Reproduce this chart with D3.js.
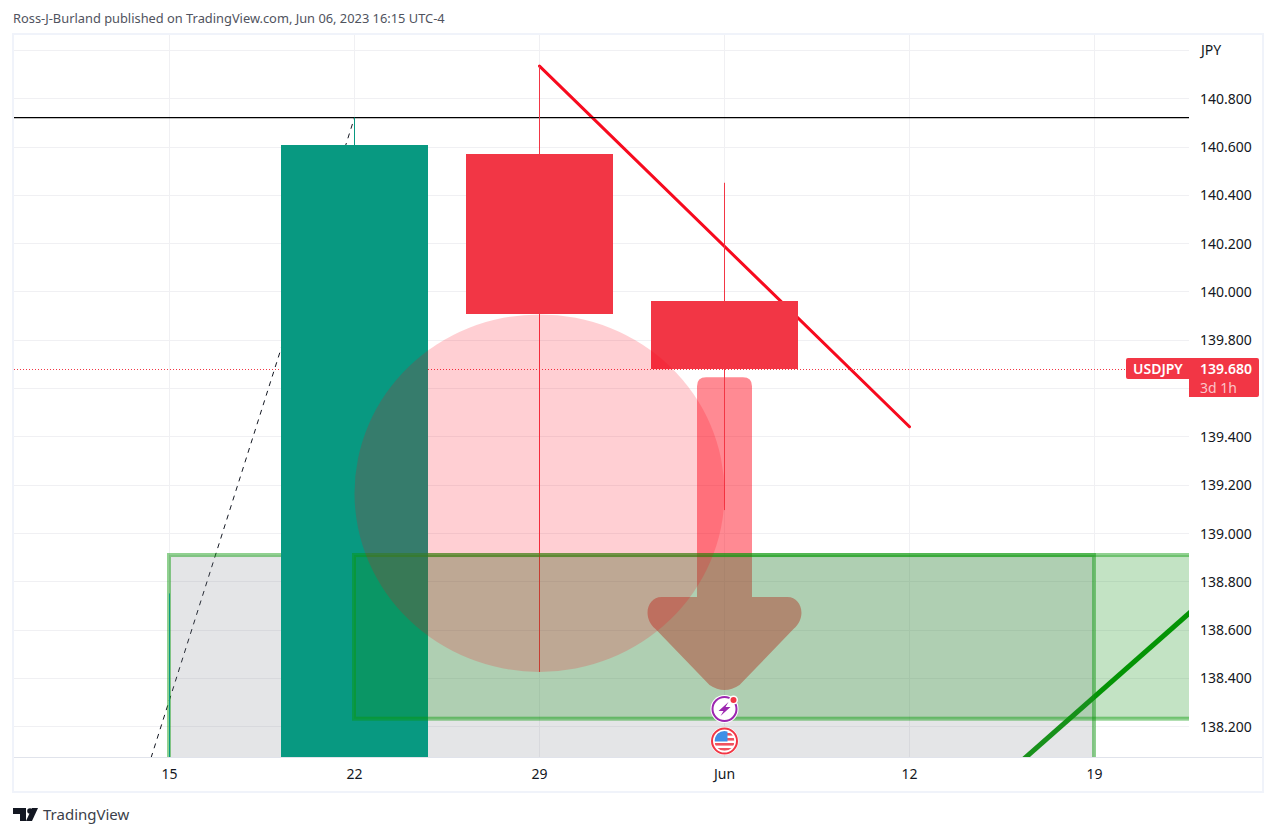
<!DOCTYPE html>
<html><head><meta charset="utf-8">
<script src="https://cdn.jsdelivr.net/npm/d3@7/dist/d3.min.js"></script>
<style>
html,body{margin:0;padding:0;background:#fff;overflow:hidden}
svg{display:block}
text{font-family:"Noto Sans","Open Sans",sans-serif}
</style></head><body>
<svg id="c" width="1277" height="836"></svg>
<script>
// ---- data ----
const symbol = "USDJPY";
const lastPrice = 139.68;
const countdown = "3d 1h";
const titleText = "Ross-J-Burland published on TradingView.com, Jun 06, 2023 16:15 UTC-4";
const brandText = "TradingView";
const currencyLabel = "JPY";
const candleDates = ["2023-05-15","2023-05-22","2023-05-29","2023-06-05"];
const candleOpen  = [137.0, 137.9, 140.57, 139.96];
const candleHigh  = [138.75, 140.72, 140.933, 140.45];
const candleLow   = [136.4, 137.5, 138.425, 139.095];
const candleClose = [137.9, 140.605, 139.905, 139.68];
const priceTicks = [138.2,138.4,138.6,138.8,139.0,139.2,139.4,139.6,139.8,140.0,140.2,140.4,140.6,140.8];
const gridPrices = priceTicks.concat([141.0]);
const dateTicks  = ["2023-05-15","2023-05-22","2023-05-29","2023-06-05","2023-06-12","2023-06-19"];
const dateLabels = ["15","22","29","Jun","12","19"];
const resistanceLevel = 140.72;
const redTrendDates = ["2023-05-29","2023-06-12"];
const redTrendPrices = [140.933, 139.44];
const greenTrendDates = ["2023-06-12","2023-06-26"];
const greenTrendPrices = [137.647, 138.998];
const dashedDates = ["2023-05-08","2023-05-22"];
const dashedPrices = [135.9, 140.72];
const greyZoneDates = ["2023-05-15","2023-06-19"];
const greyZonePrices = [138.909, 136.0];
const greenZoneDates = ["2023-05-22","2023-07-03"];
const greenZonePrices = [138.909, 138.2315];
const ellipseDates = ["2023-05-22","2023-06-05"];
const ellipsePrices = [139.905, 138.425];
const arrowDate = "2023-06-05";
const arrowPrices = [139.645, 138.35];

// ---- layout ----
const paneL=14, paneR=1189, paneT=35, paneB=757;
const pd = d3.utcParse("%Y-%m-%d");
const x = d3.scaleUtc().domain([pd("2023-05-15"),pd("2023-06-19")]).range([169.5,1094.5]);
const y = d3.scaleLinear().domain([138.2,140.8]).range([726.3,98.2]);
const dayW = (x(pd("2023-05-22"))-x(pd("2023-05-15")))/7;
const bodyW = dayW*5.56;
const svg = d3.select("#c");
const red="#f23645", teal="#089981";

svg.append("text").attr("x",13).attr("y",23).attr("font-size",12.85).attr("fill","#50535e").text(titleText);
svg.append("rect").attr("x",13).attr("y",34).attr("width",1250).attr("height",758)
  .attr("fill","#fff").attr("stroke","#f0f3fa").attr("stroke-width",2);

svg.append("defs").append("clipPath").attr("id","pane").append("rect")
  .attr("x",paneL).attr("y",paneT).attr("width",paneR-paneL).attr("height",paneB-paneT);

// grid
const grid = svg.append("g").attr("stroke","#f0f0f3").attr("stroke-width",1);
grid.selectAll(".h").data(gridPrices).join("line").attr("x1",paneL).attr("x2",paneR)
  .attr("y1",d=>Math.round(y(d))+.5).attr("y2",d=>Math.round(y(d))+.5);
grid.selectAll(".v").data(dateTicks).join("line").attr("y1",paneT).attr("y2",paneB)
  .attr("x1",d=>Math.floor(x(pd(d)))+.5).attr("x2",d=>Math.floor(x(pd(d)))+.5);

// axis separators
svg.append("line").attr("x1",paneL).attr("x2",1262).attr("y1",757.5).attr("y2",757.5).attr("stroke","#e0e3eb");

const pane = svg.append("g").attr("clip-path","url(#pane)");
const ln = d3.line().x(d=>x(d[0])).y(d=>y(d[1]));
const pair=(ds,ps)=>ds.map((d,i)=>[pd(d),ps[i]]);

// green trend under the grey zone
pane.append("path").attr("d",ln(pair(greenTrendDates,greenTrendPrices)))
  .attr("fill","none").attr("stroke","#009600").attr("stroke-width",5);

// dashed line
pane.append("path").attr("d",ln(pair(dashedDates,dashedPrices)))
  .attr("fill","none").attr("stroke","#131722").attr("stroke-width",1).attr("stroke-dasharray","5 5");

// red trend
pane.append("path").attr("d",ln(pair(redTrendDates,redTrendPrices)))
  .attr("fill","none").attr("stroke","#f70a1e").attr("stroke-width",3).attr("stroke-linecap","round");

// black level
pane.append("line").attr("x1",paneL).attr("x2",paneR).attr("y1",y(resistanceLevel)).attr("y2",y(resistanceLevel))
  .attr("stroke","#000").attr("stroke-width",1.2);

// last price dotted
pane.append("line").attr("x1",paneL).attr("x2",paneR).attr("y1",Math.round(y(lastPrice))+.5).attr("y2",Math.round(y(lastPrice))+.5)
  .attr("stroke",red).attr("stroke-width",1).attr("stroke-dasharray","1 2");

// arrow (beneath the zones)
const ax=x(pd(arrowDate)), aT=y(arrowPrices[0]), aB=y(arrowPrices[1]);
const ap=d3.path();
const shaft=27.5, head=79, headY=aB-93;
ap.moveTo(ax-shaft,aT+9);
ap.quadraticCurveTo(ax-shaft,aT,ax-shaft+9,aT);
ap.lineTo(ax+shaft-9,aT);
ap.quadraticCurveTo(ax+shaft,aT,ax+shaft,aT+9);
ap.lineTo(ax+shaft,headY);
ap.lineTo(ax+head-16,headY);
ap.bezierCurveTo(ax+head-2,headY,ax+head+4,headY+20,ax+head-10,headY+32);
ap.lineTo(ax+15,aB-5);
ap.quadraticCurveTo(ax,aB+5,ax-15,aB-5);
ap.lineTo(ax-head+10,headY+32);
ap.bezierCurveTo(ax-head-4,headY+20,ax-head+2,headY,ax-head+16,headY);
ap.lineTo(ax-shaft,headY);
ap.closePath();
pane.append("path").attr("d",ap.toString()).attr("fill","rgba(255,0,20,.46)");

// zones
const zone=(ds,ps,fill)=>pane.append("rect")
  .attr("x",x(pd(ds[0]))-.5).attr("y",y(ps[0]))
  .attr("width",x(pd(ds[1]))-x(pd(ds[0]))).attr("height",y(ps[1])-y(ps[0]))
  .attr("fill",fill).attr("stroke","rgba(8,153,8,.45)").attr("stroke-width",4);
zone(greyZoneDates,greyZonePrices,"rgba(120,123,134,.2)");

// candles
const candles = candleDates.map((d,i)=>({d:pd(d),o:candleOpen[i],h:candleHigh[i],l:candleLow[i],c:candleClose[i]}));
const cg = pane.append("g");
const col=d=>d.c>=d.o?teal:red;
cg.selectAll(".w").data(candles).join("line")
  .attr("x1",d=>Math.floor(x(d.d))+.5).attr("x2",d=>Math.floor(x(d.d))+.5)
  .attr("y1",d=>y(d.h)).attr("y2",d=>y(d.l)).attr("stroke",col).attr("stroke-width",1);
cg.selectAll(".b").data(candles).join("rect")
  .attr("x",d=>Math.round(x(d.d)-bodyW/2)).attr("width",Math.round(bodyW))
  .attr("y",d=>Math.round(y(Math.max(d.o,d.c)))).attr("height",d=>Math.round(y(Math.min(d.o,d.c)))-Math.round(y(Math.max(d.o,d.c)))).attr("fill",col);

// green zone
zone(greenZoneDates,greenZonePrices,"rgba(14,144,20,.25)");

// ellipse
const e0=x(pd(ellipseDates[0])), e1=x(pd(ellipseDates[1]));
pane.append("ellipse").attr("cx",(e0+e1)/2).attr("cy",(y(ellipsePrices[0])+y(ellipsePrices[1]))/2)
  .attr("rx",(e1-e0)/2).attr("ry",(y(ellipsePrices[1])-y(ellipsePrices[0]))/2)
  .attr("fill","rgba(255,0,20,.19)");

// event icons
const ix=x(pd("2023-06-05"));
const ev=svg.append("g").attr("transform",`translate(${ix},709)`);
ev.append("circle").attr("r",14).attr("fill","#fff");
ev.append("circle").attr("r",12).attr("fill","#fff").attr("stroke","#9c27b0").attr("stroke-width",2);
ev.append("path").attr("d","M4,-7 L-6,2 L-1,2 L-4,7 L6,-2 L1,-2 Z").attr("fill","#9c27b0");
ev.append("circle").attr("cx",9).attr("cy",-9).attr("r",4.5).attr("fill","#fff");
ev.append("circle").attr("cx",9).attr("cy",-9).attr("r",3).attr("fill",red);
const fl=svg.append("g").attr("transform",`translate(${ix},741)`);
fl.append("circle").attr("r",14).attr("fill","#fff");
fl.append("circle").attr("r",12.5).attr("fill","#fff").attr("stroke",red).attr("stroke-width",2);
const clipF=svg.select("defs").append("clipPath").attr("id","fl");
clipF.append("circle").attr("r",10);
const ff=fl.append("g").attr("clip-path","url(#fl)");
ff.append("rect").attr("x",-10).attr("y",-10).attr("width",20).attr("height",20).attr("fill","#fff");
[-8,-3,2,7].forEach(v=>ff.append("rect").attr("x",-10).attr("y",v).attr("width",20).attr("height",2.6).attr("fill","#f0525f"));
ff.append("rect").attr("x",-10).attr("y",-10).attr("width",13).attr("height",10.5).attr("fill","#3f8fe6");

// axes
const yAxis=d3.axisRight(y).tickValues(priceTicks).tickFormat(d3.format(".3f")).tickSize(0).tickPadding(0);
const ya=svg.append("g").attr("transform","translate(1200,.5)").call(yAxis);
ya.select(".domain").remove();
ya.selectAll("text").attr("font-size",14).attr("fill","#131722").attr("font-family",'"Noto Sans",sans-serif');
svg.append("text").attr("x",1201).attr("y",55).attr("font-size",14).attr("fill","#131722").text(currencyLabel);

const xAxis=d3.axisBottom(x).tickValues(dateTicks.map(pd)).tickFormat((d,i)=>dateLabels[i]).tickSize(0).tickPadding(0);
const xa=svg.append("g").attr("transform","translate(-.5,769)").call(xAxis);
xa.select(".domain").remove();
xa.selectAll("text").attr("font-size",14).attr("fill","#131722").attr("font-family",'"Noto Sans",sans-serif');

// price label
const py=Math.round(y(lastPrice));
svg.append("path").attr("d",`M1128,${py-11}H1257a2,2 0 0 1 2,2V${py+26}a2,2 0 0 1 -2,2H1189V${py+10}H1128a2,2 0 0 1 -2,-2V${py-9}a2,2 0 0 1 2,-2Z`).attr("fill",red);
svg.append("text").attr("x",1133).attr("y",py+4.5).attr("font-size",14).attr("font-weight",600).attr("fill","#fff").text(symbol);
svg.append("text").attr("x",1200).attr("y",py+4.5).attr("font-size",14).attr("font-weight",600).attr("fill","#fff").text(d3.format(".3f")(lastPrice));
svg.append("text").attr("x",1200).attr("y",py+24).attr("font-size",14).attr("fill","#fbc4c9").text(countdown);

// brand
const lg=svg.append("g").attr("fill","#131722");
lg.append("path").attr("d","M13,808H26V821H20V814H13Z");
lg.append("circle").attr("cx",30).attr("cy",811).attr("r",2.8);
lg.append("path").attr("d","M32,808H38L32,821H26Z");
svg.append("text").attr("x",43).attr("y",820).attr("font-size",15).attr("fill","#3c3f4a").text(brandText);
</script>
</body></html>
